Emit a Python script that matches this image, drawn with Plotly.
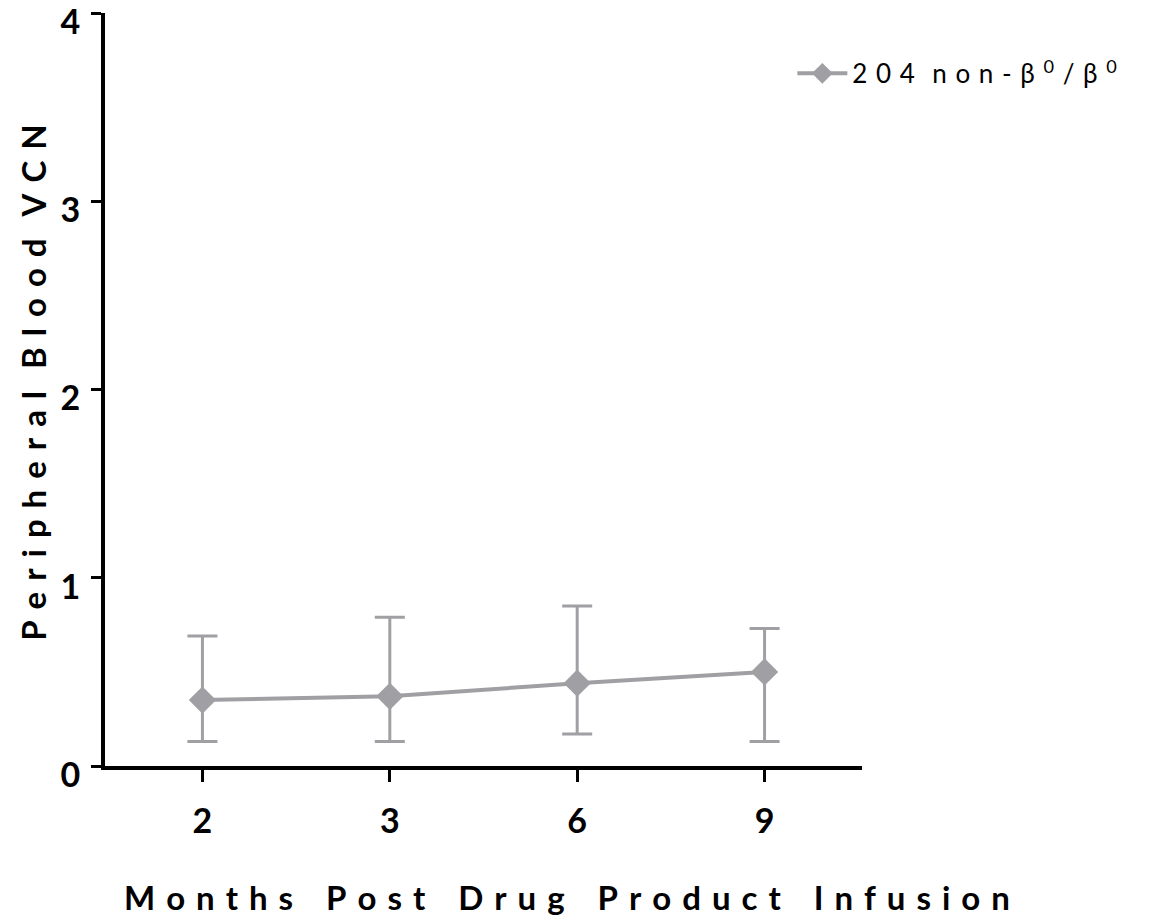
import plotly.graph_objects as go

# Peripheral blood vector copy number over time (mean with range bars)
months = ["2", "3", "6", "9"]
vcn_mean = [0.35, 0.37, 0.44, 0.50]
vcn_upper = [0.69, 0.79, 0.85, 0.73]
vcn_lower = [0.13, 0.13, 0.17, 0.13]
y_ticks = [0, 1, 2, 3, 4]

GREY = "#A0A0A4"
GAP = "\u2004"  # three-per-em space used for the loose letter spacing


def spaced(text, word_gap=3):
    """Spread letters apart, with a wider gap between words."""
    return (GAP * word_gap).join(GAP.join(list(w)) for w in text.split(" "))


series_name = (GAP.join("204") + GAP * 2 + GAP.join("non-β")
               + GAP + "<sup>0</sup>" + GAP + "/" + GAP + "β" + GAP + "<sup>0</sup>")

err_plus = [u - m for u, m in zip(vcn_upper, vcn_mean)]
err_minus = [m - l for m, l in zip(vcn_mean, vcn_lower)]

fig = go.Figure()
fig.add_trace(go.Scatter(
    x=months,
    y=vcn_mean,
    mode="lines+markers",
    name=series_name,
    line=dict(color=GREY, width=4),
    marker=dict(symbol="diamond", size=21, color=GREY),
    error_y=dict(type="data", symmetric=False, array=err_plus, arrayminus=err_minus,
                 color=GREY, thickness=3, width=15),
))

fig.update_layout(
    width=1168,
    height=922,
    margin=dict(l=105, r=306, t=13, b=156, autoexpand=False),
    paper_bgcolor="white",
    plot_bgcolor="white",
    showlegend=True,
    legend=dict(
        x=0.908, xanchor="left", y=0.951, yanchor="top",
        itemwidth=50, valign="top",
        font=dict(family="Lato", size=26, color="black"),
        bgcolor="rgba(0,0,0,0)",
    ),
    xaxis=dict(
        type="category",
        range=[-0.52, 3.52],
        automargin=False,
        showline=True, linecolor="black", linewidth=4,
        ticks="outside", ticklen=12, tickwidth=3, tickcolor="black",
        tickfont=dict(family="Lato", size=34, color="black", weight="bold"),
        ticklabelstandoff=10,
        showgrid=False, zeroline=False,
    ),
    yaxis=dict(
        range=[0, 4],
        tickvals=y_ticks,
        automargin=False,
        showline=True, linecolor="black", linewidth=4,
        ticks="outside", ticklen=10, tickwidth=3, tickcolor="black",
        tickfont=dict(family="Lato", size=34, color="black", weight="bold"),
        ticklabeloverflow="allow",
        ticklabelstandoff=4,
        ticklabelshift=9,
        showgrid=False, zeroline=False,
    ),
    annotations=[
        dict(text=spaced("Months Post Drug Product Infusion"), xref="paper", yref="paper",
             x=0.61, y=-0.174, xanchor="center", yanchor="middle", showarrow=False,
             font=dict(family="Lato", size=33, color="black", weight="bold")),
        dict(text=spaced("Peripheral Blood VCN", word_gap=2), xref="paper", yref="paper",
             x=-0.095, y=0.509, xanchor="center", yanchor="middle", showarrow=False,
             textangle=-90,
             font=dict(family="Lato", size=33, color="black", weight="bold")),
    ],
)

fig.write_html("out.html")
